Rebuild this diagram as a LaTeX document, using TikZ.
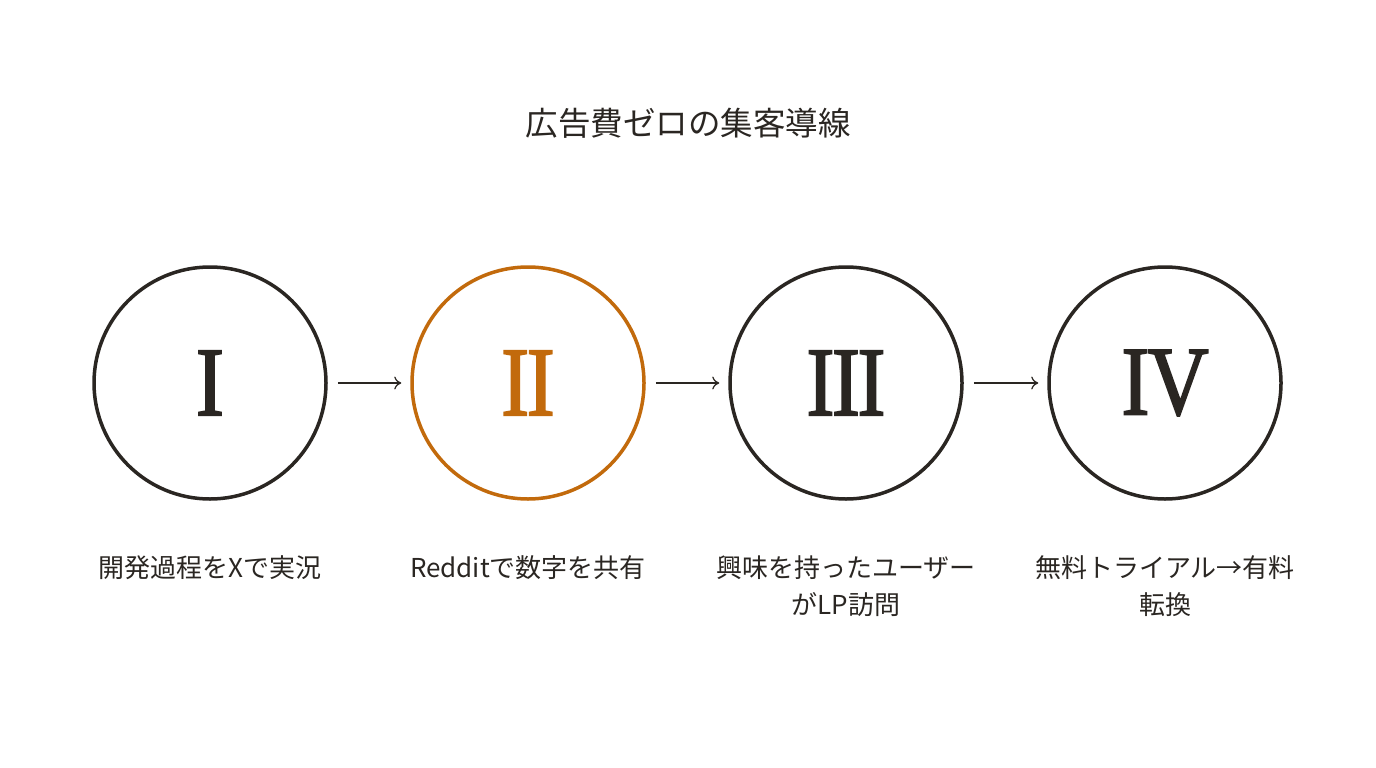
\documentclass[tikz,border=0pt]{standalone}
\usepackage{fontspec}
\usepackage{graphicx}
\setmainfont{Noto Sans CJK JP}
\newfontfamily\numfont[FakeBold=2]{Liberation Serif}
\usetikzlibrary{arrows.meta,positioning}
\definecolor{ink}{HTML}{2A2622}
\definecolor{accent}{HTML}{C26A0C}
\newcommand{\stagenum}[1]{\scalebox{0.86}[1]{#1}}
\begin{document}
\begin{tikzpicture}[x=1pt,y=-1pt]
        % Define styles
        \tikzset{
          stage/.style={circle,draw=ink,line width=3.5pt,minimum size=232pt,inner sep=0pt,text=ink,font=\numfont\fontsize{98}{98}\selectfont},
          caption/.style={anchor=north,align=center,text=ink,font=\fontsize{26}{37}\selectfont},
          flow/.style={-{To[length=7pt,width=13pt]},draw=ink,line width=1.2pt,shorten <=10pt,shorten >=9pt}
        }
        \useasboundingbox[fill=white] (0,0) rectangle (1376,768);

        % Title
        \node[text=ink,font=\fontsize{32.5}{32.5}\selectfont] (title) at (688,123) {広告費ゼロの集客導線};

        % Stages
        \node[stage] (s1) at (210,383) {\stagenum{I}};
        \node[stage,draw=accent,text=accent] (s2) at (528,383) {\stagenum{I\kern-3pt I}};
        \node[stage] (s3) at (846,383) {\stagenum{I\kern-3pt I\kern-3pt I}};
        \node[stage] (s4) at (1165,383) {\stagenum{I\kern-2pt V}};

        % Captions
        \node[caption] (c1) at (210,552) {開発過程をXで実況};
        \node[caption] (c2) at (528,552) {Redditで数字を共有};
        \node[caption] (c3) at (846,552) {興味を持ったユーザー\\がLP訪問};
        \node[caption] (c4) at (1165,552) {無料トライアル→有料\\転換};

        % Connect the stages
        \draw[flow] (s1) -- (s2);
        \draw[flow] (s2) -- (s3);
        \draw[flow] (s3) -- (s4);
\end{tikzpicture}
\end{document}
